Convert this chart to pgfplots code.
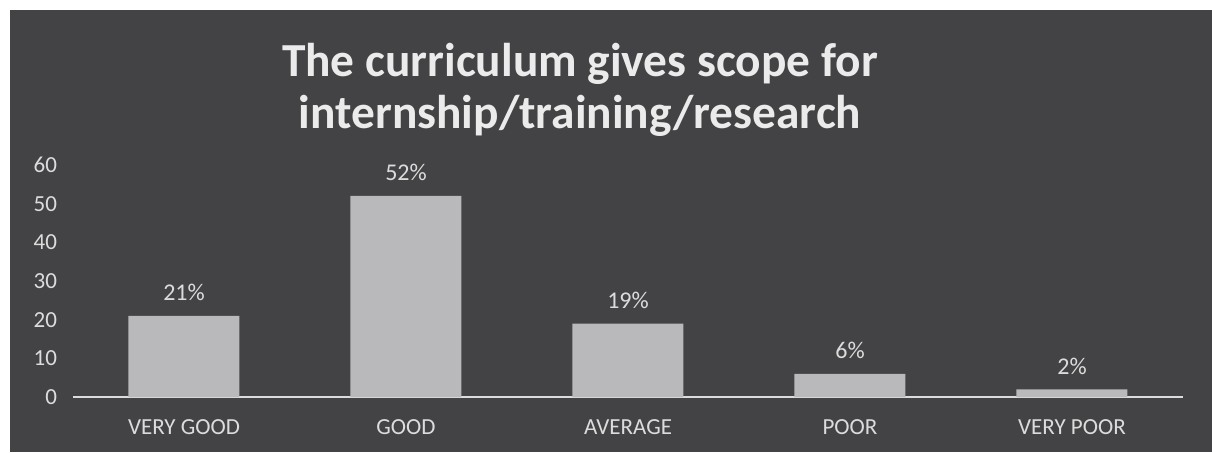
\documentclass[border=0pt]{standalone}
\usepackage{pgfplots}
\pgfplotsset{compat=1.18}
\usepackage{fontspec}
\setmainfont{Carlito}
\definecolor{bg}{HTML}{434345}
\definecolor{barc}{HTML}{B9B9BB}
\definecolor{txt}{HTML}{DCDCDC}
\begin{document}
\begin{tikzpicture}[x=1pt,y=1pt]
\fill[white] (0,0) rectangle (606,226);
\fill[bg] (5,0) rectangle (606,221);
\useasboundingbox (0,0) rectangle (606,226);
\node[align=center, text=white!92!black, font=\fontsize{23.7}{26}\selectfont\bfseries] at (290,181)
  {The curriculum gives scope for\\internship/training/research};
\begin{axis}[
  at={(36.5pt,27.5pt)}, anchor=south west,
  scale only axis, width=555pt, height=116pt,
  xmin=-0.5, xmax=4.5, ymin=0, ymax=60,
  ytick={0,10,...,60},
  xtick=data,
  xticklabels={VERY GOOD,GOOD,AVERAGE,POOR,VERY POOR},
  axis y line=none,
  axis x line*=bottom,
  axis line style={draw=txt, line width=1pt},
  x axis line style={-},
  major tick length=0pt,
  tick style={draw=none},
  ticklabel style={text=txt, font=\fontsize{11.5}{13}\selectfont},
  /pgf/number format/assume math mode=true,
  xticklabel style={yshift=-8pt},
  ybar, bar width=0.5,
  nodes near coords={\pgfmathprintnumber{\pgfplotspointmeta}\%},
  every node near coord/.append style={text=txt, font=\fontsize{12}{14}\selectfont, yshift=4pt},
  clip=false,
]
\addplot[fill=barc, draw=none] coordinates {(0,21) (1,52) (2,19) (3,6) (4,2)};
\end{axis}
\begin{axis}[
  at={(36.5pt,27.5pt)}, anchor=south west,
  scale only axis, width=555pt, height=116pt,
  xmin=-0.5, xmax=4.5, ymin=0, ymax=60,
  ytick={0,10,...,60}, xtick=\empty,
  axis x line=none, axis y line*=left,
  y axis line style={draw=none},
  major tick length=0pt, tick style={draw=none},
  ticklabel style={text=txt, font=\fontsize{11.5}{13}\selectfont},
  /pgf/number format/assume math mode=true,
  yticklabel style={xshift=-4.5pt},
]
\addplot[draw=none] coordinates {(0,0)};
\end{axis}
\end{tikzpicture}
\end{document}
